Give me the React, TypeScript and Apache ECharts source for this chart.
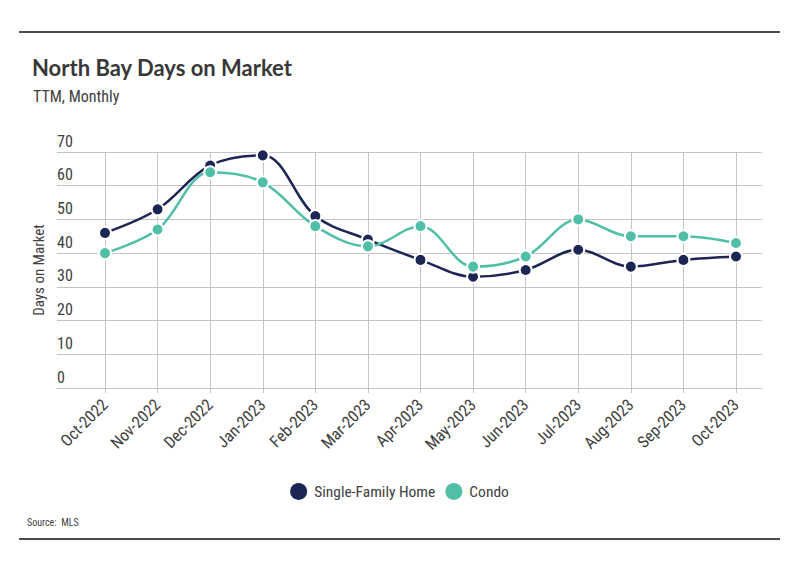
import React, { useEffect, useRef } from "react";
import * as echarts from "echarts";

const months = ["Oct-2022","Nov-2022","Dec-2022","Jan-2023","Feb-2023","Mar-2023","Apr-2023","May-2023","Jun-2023","Jul-2023","Aug-2023","Sep-2023","Oct-2023"];
const singleFamily = [46, 53, 66, 69, 51, 44, 38, 33, 35, 41, 36, 38, 39];
const condo = [40, 47, 64, 61, 48, 42, 48, 36, 39, 50, 45, 45, 43];
const yTicks = { min: 0, max: 70, interval: 10 };

const NARROW = "'Liberation Sans Narrow', 'Roboto Condensed', 'DejaVu Sans Condensed', sans-serif";
const TXT = "#404040";
const GRID = "#c4c4c4";
const NAVY = "#1c2654";
const TEAL = "#4fbfa8";

export default function App() {
  const ref = useRef<HTMLDivElement>(null);
  useEffect(() => {
    const chart = echarts.init(ref.current!, undefined, { renderer: "svg" });
    chart.setOption({
      animation: false,
      backgroundColor: "#ffffff",
      title: [
        {
          text: "North Bay Days on Market",
          left: 32, top: 56, padding: 0,
          textStyle: { fontFamily: "Lato, sans-serif", fontWeight: "bold", fontSize: 22, color: "#383838" },
        },
        {
          text: "TTM, Monthly",
          left: 33, top: 88, padding: 0,
          textStyle: { fontFamily: NARROW, fontWeight: "normal", fontSize: 16, color: TXT },
        },
        {
          text: "Source:  MLS",
          left: 27, top: 517, padding: 0,
          textStyle: { fontFamily: NARROW, fontWeight: "normal", fontSize: 10, color: TXT },
        },
      ],
      legend: {
        data: ["Single-Family Home", "Condo"],
        left: "center", top: 483, padding: 0,
        icon: "circle", itemWidth: 17, itemHeight: 17, itemGap: 10,
        itemStyle: { borderWidth: 0 },
        textStyle: { fontFamily: NARROW, fontSize: 15.5, color: TXT, padding: [0, 0, 0, 2] },
      },
      grid: [
        { left: 57, right: 37, top: 152, bottom: 187 },
        { left: 105, right: 63, top: 152, bottom: 187 },
      ],
      xAxis: [
        { type: "value", gridIndex: 0, show: false, min: 0, max: 1 },
        {
          type: "category", gridIndex: 1, data: months, boundaryGap: false,
          axisLine: { show: false },
          axisTick: { show: true, length: 5, lineStyle: { color: GRID } },
          splitLine: { show: true, lineStyle: { color: GRID, width: 1 } },
          axisLabel: { rotate: 45, margin: 14, fontFamily: NARROW, fontSize: 16.5, color: TXT, interval: 0 },
        },
      ],
      yAxis: [
        {
          type: "value", gridIndex: 0, ...yTicks,
          name: "Days on Market", nameLocation: "middle", nameGap: 10,
          nameTextStyle: { fontFamily: NARROW, fontSize: 15, color: TXT },
          axisLine: { show: false }, axisTick: { show: false },
          splitLine: { show: true, lineStyle: { color: GRID, width: 1 } },
          axisLabel: {
            inside: true, margin: 0, fontFamily: NARROW, fontSize: 16, color: TXT,
            verticalAlign: "bottom", padding: [0, 0, 3, 0],
          },
        },
        { type: "value", gridIndex: 1, ...yTicks, show: false, splitLine: { show: false } },
      ],
      series: [
        {
          name: "Single-Family Home", type: "line", xAxisIndex: 1, yAxisIndex: 1,
          data: singleFamily, smooth: 0.35, symbol: "circle", symbolSize: 12,
          lineStyle: { color: NAVY, width: 2.5 },
          itemStyle: { color: NAVY, borderColor: "#ffffff", borderWidth: 2 },
          z: 3,
        },
        {
          name: "Condo", type: "line", xAxisIndex: 1, yAxisIndex: 1,
          data: condo, smooth: 0.35, symbol: "circle", symbolSize: 12,
          lineStyle: { color: TEAL, width: 2.5 },
          itemStyle: { color: TEAL, borderColor: "#ffffff", borderWidth: 2 },
          z: 4,
        },
      ],
      graphic: [
        { type: "line", shape: { x1: 19, y1: 32, x2: 780, y2: 32 }, style: { stroke: "#111", lineWidth: 1.5 } },
        { type: "line", shape: { x1: 19, y1: 539, x2: 780, y2: 539 }, style: { stroke: "#111", lineWidth: 1.5 } },
      ],
    });
    return () => chart.dispose();
  }, []);
  return <div ref={ref} style={{ position: "fixed", left: 0, top: 0, width: 799, height: 575 }} />;
}
